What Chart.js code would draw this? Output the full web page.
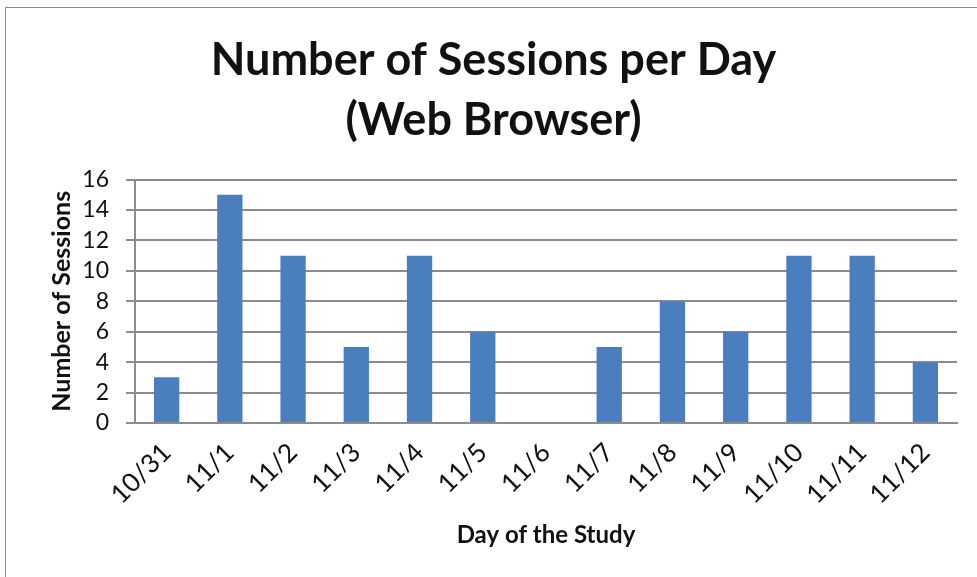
<!DOCTYPE html>
<html>
<head>
<meta charset="utf-8">
<script src="https://cdn.jsdelivr.net/npm/chart.js@4"></script>
<style>
  html, body { margin: 0; padding: 0; background: #fff; }
  #wrap { position: relative; width: 977px; height: 577px; overflow: hidden; }
  #frame { position: absolute; left: 5px; top: 7px; width: 1000px; height: 600px;
           border-left: 1px solid #8a8a8a; border-top: 1px solid #8a8a8a; }
  canvas { position: absolute; left: 0; top: 0; }
</style>
</head>
<body>
<div id="wrap">
  <div id="frame"></div>
  <canvas id="sessions" width="977" height="577"></canvas>
</div>
<script>
const days = ['10/31', '11/1', '11/2', '11/3', '11/4', '11/5', '11/6', '11/7', '11/8', '11/9', '11/10', '11/11', '11/12']
const sessions = [3, 15, 11, 5, 11, 6, 0, 5, 8, 6, 11, 11, 4]
const titleLines = ['Number of Sessions per Day', '(Web Browser)']

const fontName = 'Lato, "Open Sans", sans-serif'
const gridColor = '#8c8c8c'

const sessionsChart = new Chart(
  document.getElementById('sessions'),
  {
    type: 'bar',
    data: {
      labels: days,
      datasets: [
        {
          label: 'Number of Sessions',
          data: sessions,
          backgroundColor: '#4A7EBF',
          barPercentage: 0.4,
          categoryPercentage: 1
        }
      ]
    },
    options: {
      responsive: false,
      animation: false,
      layout: {
        // left padding keeps the title centred like the original
        padding: { top: 7, left: 30, right: 20, bottom: 0 }
      },
      plugins: {
        legend: {
          display: false
        },
        tooltip: {
          enabled: false
        },
        title: {
          display: true,
          text: titleLines,
          color: '#111',
          font: {
            family: fontName,
            size: 45,
            weight: 'bold',
            lineHeight: 1.34
          },
          padding: { top: 23, bottom: 29 }
        }
      },
      scales: {
        x: {
          afterFit: function(scale) { scale.height = 154 },
          grid: {
            display: false
          },
          border: {
            color: gridColor,
            width: 2
          },
          ticks: {
            color: '#111',
            autoSkip: false,
            minRotation: 45,
            maxRotation: 45,
            padding: 6,
            font: { family: fontName, size: 26 }
          },
          title: {
            display: true,
            text: 'Day of the Study',
            color: '#111',
            font: { family: fontName, size: 24, weight: 'bold', lineHeight: 1.2 },
            padding: { top: 0, bottom: 27 }
          }
        },
        y: {
          min: 0,
          max: 16,
          afterFit: function(scale) { scale.width = 105 },
          grid: {
            color: gridColor,
            lineWidth: 2,
            tickLength: 9
          },
          border: {
            color: gridColor,
            width: 2
          },
          ticks: {
            stepSize: 2,
            autoSkip: false,
            color: '#111',
            padding: 17,
            font: { family: fontName, size: 23 }
          },
          title: {
            display: true,
            text: 'Number of Sessions',
            color: '#111',
            font: { family: fontName, size: 25, weight: 'bold', lineHeight: 1.2 },
            padding: { top: 17, bottom: 0 }
          }
        }
      }
    }
  });
</script>
</body>
</html>
